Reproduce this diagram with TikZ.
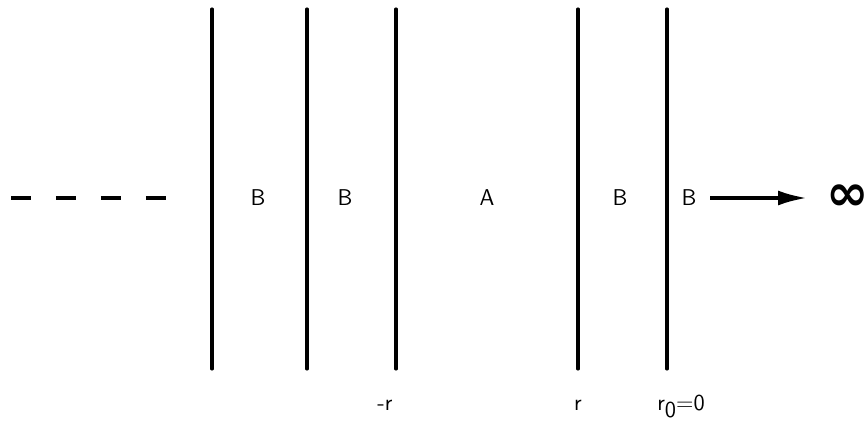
\documentclass[tikz,border=0pt]{standalone}
\usepackage{tikz}
\usetikzlibrary{positioning}
\usetikzlibrary{arrows.meta}
\usepackage{fontspec}
\newfontfamily\symbfont{DejaVu Sans}

\begin{document}
\begin{tikzpicture}[x=0.02cm, y=-0.02cm,
    wall/.style={line width=1.8pt, line cap=round},
    region/.style={font=\sffamily\fontsize{13}{15}\selectfont, inner sep=0pt},
    poslabel/.style={font=\sffamily\fontsize{13}{15}\selectfont, inner sep=0pt, anchor=base}]

\useasboundingbox (0,0) rectangle (867,433);

%---------------------------------------
% Shared values
%---------------------------------------
\def\Ytop{9}
\def\Ybot{369}
\def\Ymid{198}
\def\Ylab{410}

%---------------------------------------
% Walls
%---------------------------------------
\foreach \xw/\nm in {212/wa, 307/wb, 396/wc, 578/wd, 667/we} {
  \coordinate (\nm top) at (\xw,\Ytop);
  \coordinate (\nm bot) at (\xw,\Ybot);
  \draw[wall] (\nm top) -- (\nm bot);
}

%---------------------------------------
% Region labels
%---------------------------------------
\node[region] (b1) at (258,\Ymid) {B};
\node[region] (b2) at (345,\Ymid) {B};
\node[region] (a)  at (487,\Ymid) {A};
\node[region] (b3) at (620,\Ymid) {B};
\node[region] (b4) at (689,\Ymid) {B};

% Infinity and the arrow towards it
\node[inner sep=0pt] (inf) at (848,\Ymid)
  {\symbfont\bfseries\fontsize{29}{30}\selectfont ∞};
\coordinate (arrS) at (710,\Ymid);
\coordinate (arrE) at (807,\Ymid);
\draw[line width=2pt, -{Latex[length=0.58cm,width=0.3cm]}] (arrS) -- (arrE);

% Continuation dashes on the left
\coordinate (dashS) at (11,\Ymid);
\coordinate (dashE) at (167,\Ymid);
\draw[line width=2.2pt, dash pattern=on 0.4cm off 0.5cm] (dashS) -- (dashE);

%---------------------------------------
% Positions below
%---------------------------------------
\node[poslabel] (mr) at (385,\Ylab) {-r};
\node[poslabel] (pr) at (578,\Ylab) {r};
\node[poslabel, anchor=base west] (r0) at (657,\Ylab) {r\raisebox{-0.7ex}{0}=0};

\end{tikzpicture}
\end{document}
